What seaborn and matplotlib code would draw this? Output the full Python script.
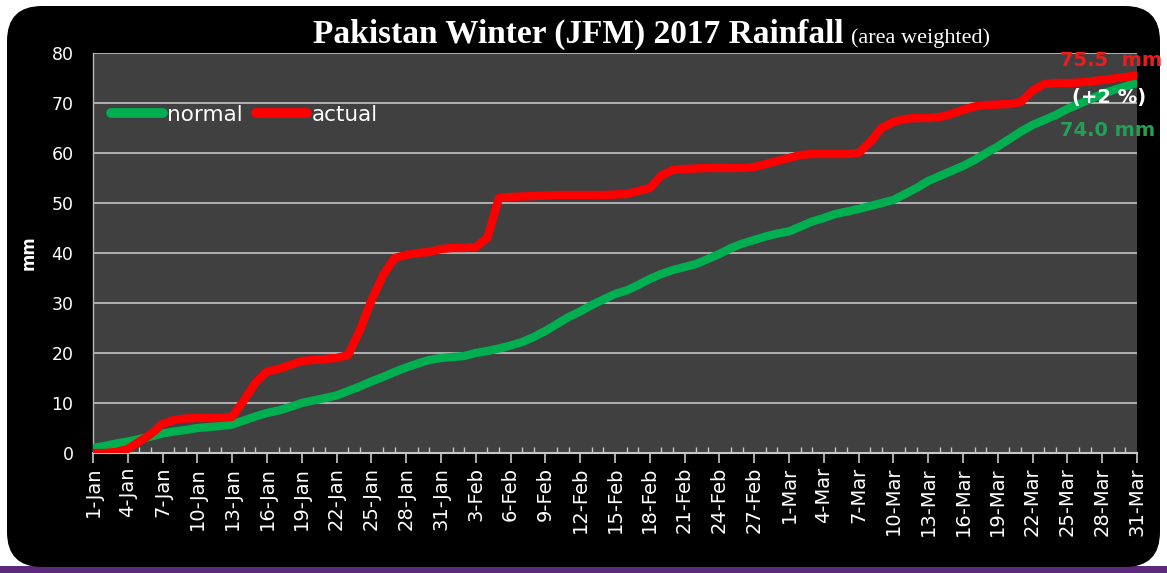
import matplotlib
matplotlib.use("Agg")
import matplotlib.pyplot as plt
import numpy as np
import pandas as pd
import seaborn as sns
from matplotlib.patches import FancyBboxPatch, Rectangle

# ---------------- data ----------------
# 91 daily categories (the source sheet includes 29-Feb)
dates = pd.date_range("2016-01-01", "2016-03-31", freq="D")
day_labels = [f"{d.day}-{d.strftime('%b')}" for d in dates]
day_index = list(range(len(day_labels)))

normal_mm = [
    1.0, 1.4, 1.9, 2.3, 2.8, 3.3, 3.9, 4.3, 4.6, 5.0,
    5.2, 5.4, 5.7, 6.5, 7.3, 8.0, 8.5, 9.2, 10.0, 10.5,
    11.0, 11.5, 12.4, 13.3, 14.3, 15.2, 16.2, 17.1, 17.9, 18.6,
    19.0, 19.2, 19.4, 20.0, 20.4, 20.9, 21.5, 22.2, 23.2, 24.4,
    25.8, 27.2, 28.3, 29.6, 30.7, 31.8, 32.5, 33.6, 34.8, 35.8,
    36.6, 37.2, 37.8, 38.8, 39.8, 41.0, 41.9, 42.6, 43.3, 43.9,
    44.3, 45.3, 46.3, 47.0, 47.8, 48.3, 48.8, 49.4, 50.0, 50.6,
    51.8, 53.0, 54.4, 55.4, 56.4, 57.4, 58.6, 60.0, 61.3, 62.8,
    64.3, 65.6, 66.6, 67.6, 68.8, 69.8, 70.8, 71.8, 72.6, 73.3,
    74.0,
]
actual_mm = [
    0.0, 0.0, 0.2, 0.8, 2.3, 3.8, 5.8, 6.6, 6.9, 7.0,
    7.0, 7.0, 7.2, 10.5, 14.0, 16.3, 16.8, 17.6, 18.4, 18.6,
    18.8, 19.0, 19.6, 24.5, 30.5, 35.5, 39.0, 39.6, 40.0, 40.2,
    40.8, 41.0, 41.0, 41.2, 43.0, 51.0, 51.2, 51.3, 51.4, 51.5,
    51.6, 51.6, 51.6, 51.6, 51.6, 51.7, 51.8, 52.4, 53.0, 55.5,
    56.6, 56.8, 56.9, 57.0, 57.0, 57.0, 57.0, 57.2, 57.8, 58.4,
    59.0, 59.6, 59.8, 59.8, 59.8, 59.8, 60.0, 62.2, 65.0, 66.2,
    66.8, 67.0, 67.0, 67.2, 67.8, 68.6, 69.3, 69.6, 69.7, 69.8,
    70.2, 72.5, 73.8, 74.0, 74.0, 74.1, 74.3, 74.6, 74.9, 75.2,
    75.5,
]
series_names = ["normal", "actual"]
series_colors = ["#00B050", "#FF0000"]

y_ticks = [0, 10, 20, 30, 40, 50, 60, 70, 80]

# ---------------- figure ----------------
sns.set_style("dark")
plt.rcParams["font.family"] = ["DejaVu Sans"]

W, H = 1167, 573
fig = plt.figure(figsize=(W / 100, H / 100), dpi=100, facecolor="white")

# purple bottom stripe + black rounded panel (behind everything)
fig.patches.append(Rectangle((0, 0), 1, 7 / H, transform=fig.transFigure,
                             facecolor="#5b2a7a", edgecolor="none", zorder=-10))
fig.patches.append(FancyBboxPatch((7 / W, 6 / H), 1153 / W, 561 / H,
                                  boxstyle="round,pad=0,rounding_size=0.03",
                                  mutation_aspect=W / H,
                                  transform=fig.transFigure,
                                  facecolor="black", edgecolor="none", zorder=-9))

ax_left, ax_right = 93, 1137
ax_top, ax_bot = 53, 453
ax = fig.add_axes([ax_left / W, (H - ax_bot) / H,
                   (ax_right - ax_left) / W, (ax_bot - ax_top) / H])
ax.set_facecolor("#404040")

for name, vals, col in zip(series_names, [normal_mm, actual_mm], series_colors):
    sns.lineplot(x=day_index, y=vals, ax=ax, color=col, linewidth=6,
                 label=name, solid_joinstyle="round", solid_capstyle="round",
                 zorder=3)

ax.set_xlim(0, 90)
ax.set_ylim(0, 80)
ax.set_yticks(y_ticks)
ax.set_yticklabels([str(v) for v in y_ticks], color="white", fontsize=12.5)
ax.yaxis.grid(True, color="#b8b8b8", linewidth=1.3)
ax.xaxis.grid(False)
ax.tick_params(axis="y", length=0, pad=14)

ax.set_xticks(day_index[::3])
ax.set_xticklabels(day_labels[::3], rotation=90, color="white", fontsize=14)
ax.set_xticks(day_index, minor=True)
ax.tick_params(axis="x", which="major", direction="out", length=7,
               color="#c8c8c8", width=1.2, pad=3, bottom=True)
ax.tick_params(axis="x", which="minor", direction="in", length=4,
               color="#c8c8c8", width=1.0, bottom=True)

for s in ["top", "right"]:
    ax.spines[s].set_visible(False)
ax.spines["bottom"].set_color("#c8c8c8")
ax.spines["bottom"].set_linewidth(1.5)
ax.spines["left"].set_color("#b8b8b8")
ax.spines["left"].set_linewidth(1.0)

ax.set_xlabel("")
ax.set_ylabel("mm", color="white", fontsize=12, fontweight="bold", labelpad=10)

leg = ax.legend(loc="center left", bbox_to_anchor=(0.007, 0.845), ncol=2,
                frameon=False, fontsize=15.5, labelcolor="white",
                handlelength=2.4, handletextpad=0.2, columnspacing=0.6,
                borderpad=0.3, borderaxespad=0.2)
for lh in leg.get_lines():
    lh.set_linewidth(7)

# annotations at the end of the season
ax.text(83.4, 78.6, "75.5  mm", color="#ee1c1c", fontsize=14,
        fontweight="bold", va="center", ha="left", clip_on=False, zorder=5)
ax.text(84.4, 71.2, "(+2 %)", color="white", fontsize=14,
        fontweight="bold", va="center", ha="left", clip_on=False, zorder=5)
ax.text(83.4, 64.6, "74.0 mm", color="#22a055", fontsize=14,
        fontweight="bold", va="center", ha="left", clip_on=False, zorder=5)

# title
fig.text(313 / W, (H - 43) / H, "Pakistan Winter (JFM) 2017 Rainfall",
         color="white", fontsize=24, fontweight="bold",
         family=["Liberation Serif"], ha="left", va="baseline")
fig.text(851 / W, (H - 43) / H, "(area weighted)", color="white",
         fontsize=16, family=["Liberation Serif"], ha="left", va="baseline")

fig.savefig("out.png", dpi=100, facecolor=fig.get_facecolor())
